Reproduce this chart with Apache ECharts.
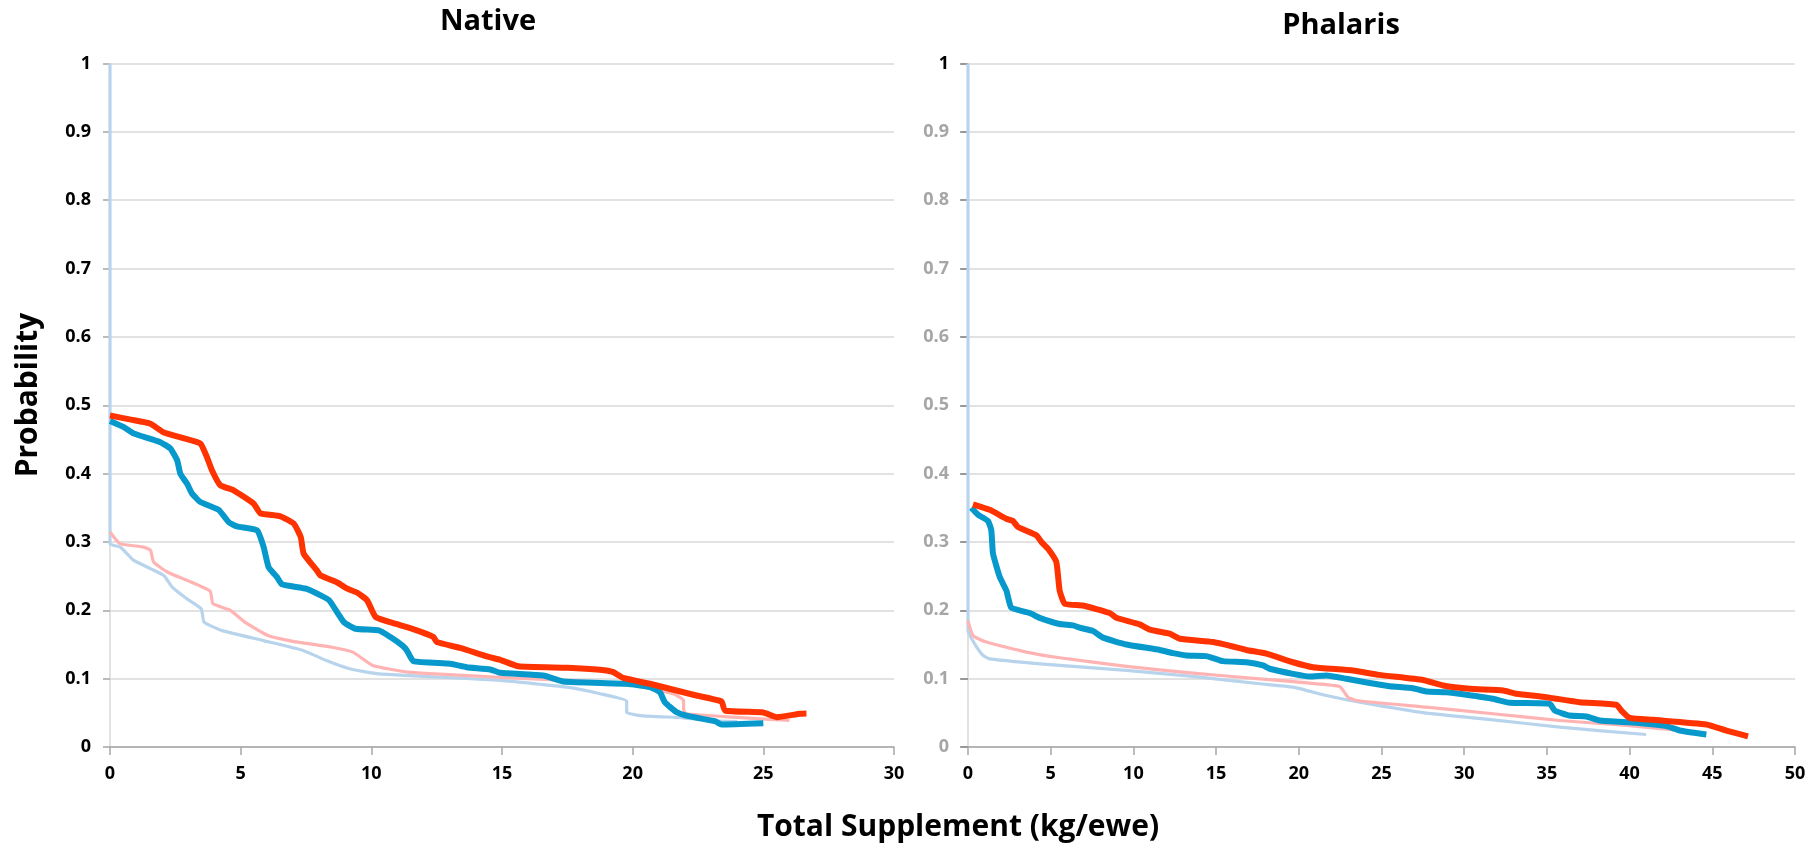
<!DOCTYPE html>
<html>
<head>
<meta charset="utf-8">
<script src="https://cdn.jsdelivr.net/npm/echarts@6/dist/echarts.min.js"></script>
<style>
html,body{margin:0;padding:0;background:#fff;}
#chart{width:1819px;height:849px;}
</style>
</head>
<body>
<div id="chart"></div>
<script>
// ---- data: [Total Supplement (kg/ewe), Probability] ----
var nativeRed = [[0,0.485],[0.8,0.479],[1.55,0.473],[2.06,0.460],[2.8,0.452],[3.46,0.444],[3.7,0.425],[3.9,0.405],[4.22,0.383],[4.73,0.3755],[5.5,0.356],[5.75,0.342],[6.52,0.3375],[7.03,0.327],[7.3,0.307],[7.41,0.283],[7.92,0.258],[8.05,0.251],[8.68,0.241],[9.06,0.232],[9.45,0.226],[9.84,0.2145],[10.17,0.190],[10.95,0.180],[11.74,0.1706],[12.38,0.1608],[12.5,0.1535],[13.4,0.145],[14.42,0.1325],[14.93,0.1276],[15.63,0.118],[17.5,0.116],[18.75,0.113],[19.26,0.1095],[19.64,0.101],[20.66,0.0925],[22.32,0.0764],[23.4,0.0666],[23.53,0.0534],[25.0,0.0505],[25.5,0.0437],[26.4,0.0486],[26.65,0.049]];
var nativeBlue = [[0,0.477],[0.53,0.468],[0.91,0.4586],[1.93,0.446],[2.31,0.4366],[2.57,0.4195],[2.69,0.400],[2.95,0.385],[3.14,0.3707],[3.46,0.3584],[4.16,0.347],[4.54,0.329],[4.86,0.3228],[5.63,0.317],[5.88,0.2925],[6.07,0.263],[6.39,0.2486],[6.58,0.238],[7.5,0.2316],[8.06,0.2218],[8.39,0.2145],[8.95,0.1827],[9.4,0.173],[10.29,0.1706],[10.73,0.1608],[11.18,0.1486],[11.36,0.1413],[11.61,0.1256],[13.02,0.1218],[13.65,0.1168],[14.55,0.1135],[14.93,0.1086],[16.58,0.1047],[17.35,0.0959],[19.77,0.0925],[20.66,0.0876],[21.04,0.0802],[21.23,0.0656],[21.68,0.051],[22.19,0.0447],[23.15,0.0378],[23.4,0.033],[25.0,0.0349]];
var nativePink = [[0,0.3145],[0.38,0.2975],[1.29,0.2925],[1.55,0.2877],[1.67,0.2706],[2.19,0.256],[2.95,0.2438],[3.83,0.228],[3.94,0.2097],[4.61,0.20],[5.16,0.1827],[6.05,0.163],[6.95,0.155],[8.5,0.146],[9.29,0.1388],[10.06,0.1193],[11.4,0.1095],[14.93,0.102],[17.48,0.0974],[20.02,0.090],[21.55,0.078],[21.95,0.068],[21.95,0.054],[22.06,0.0486],[23.85,0.0437],[26.0,0.0388]];
var nativePaleBlue = [[0,1],[0,0.2975],[0.4,0.2925],[0.91,0.273],[1.55,0.261],[2.06,0.251],[2.38,0.234],[2.94,0.217],[3.49,0.2023],[3.6,0.1827],[4.27,0.1706],[5.83,0.156],[7.39,0.1413],[8.28,0.1266],[9.17,0.1145],[10.29,0.107],[14.93,0.0974],[17.48,0.0876],[18.75,0.078],[19.77,0.067],[19.77,0.051],[20.28,0.046],[21.93,0.0427],[22.95,0.0388],[24,0.037]];

var phalarisRed = [[0.3,0.355],[1.31,0.347],[2.32,0.334],[2.72,0.3306],[3.02,0.3218],[4.13,0.3097],[4.44,0.300],[4.84,0.290],[5.34,0.2706],[5.54,0.229],[5.85,0.2097],[6.95,0.207],[8.57,0.196],[8.97,0.189],[10.38,0.1794],[10.99,0.1716],[12.19,0.1657],[12.8,0.1584],[14.81,0.1535],[16.02,0.147],[16.83,0.142],[18.04,0.1365],[19.65,0.124],[20.86,0.1168],[23.28,0.112],[24.85,0.1055],[27.51,0.098],[28.72,0.090],[30.33,0.0852],[32.35,0.0827],[33.16,0.0779],[34.97,0.0729],[36.98,0.0656],[39.2,0.0618],[39.5,0.0534],[40.0,0.0427],[41.41,0.0398],[44.64,0.033],[45.85,0.0241],[47.16,0.0154]];
var phalarisBlue = [[0.2,0.350],[0.6,0.340],[1.21,0.3306],[1.41,0.317],[1.51,0.283],[1.92,0.2486],[2.32,0.229],[2.62,0.2038],[3.73,0.196],[4.33,0.189],[5.54,0.180],[6.35,0.178],[6.75,0.1745],[7.56,0.1696],[8.16,0.160],[9.58,0.150],[11.59,0.142],[12.39,0.1373],[13.2,0.134],[14.41,0.133],[15.42,0.1256],[16.83,0.124],[17.84,0.1193],[18.24,0.1145],[19.65,0.107],[20.66,0.1032],[21.67,0.1047],[22.88,0.0998],[24.2,0.094],[25.5,0.089],[26.9,0.086],[27.71,0.0813],[28.92,0.0802],[30.13,0.0764],[31.74,0.0705],[32.75,0.0647],[35.17,0.0632],[35.47,0.0534],[36.38,0.046],[37.39,0.0447],[38.19,0.0388],[40.41,0.0354],[42.22,0.0305],[43.03,0.0242],[44.64,0.0183]];
var phalarisPink = [[0,0.185],[0.3,0.163],[1.11,0.1535],[3.53,0.1388],[5.54,0.1306],[9.58,0.118],[13.6,0.108],[17.64,0.0998],[20.66,0.0934],[22.47,0.0886],[22.97,0.0729],[23.48,0.068],[27.71,0.0583],[31.74,0.0486],[35.77,0.0388],[39.81,0.0315],[43.03,0.0242]];
var phalarisPaleBlue = [[0,1],[0,0.17],[0.4,0.151],[0.91,0.134],[1.31,0.129],[5.54,0.1193],[9.58,0.112],[13.6,0.1032],[17.64,0.0925],[19.65,0.0876],[21.67,0.0754],[23.68,0.0656],[27.71,0.0495],[31.74,0.0398],[35.77,0.029],[41.0,0.0183]];

var panelTitles = ['Native', 'Phalaris'];
var xTitle = 'Total Supplement (kg/ewe)';
var yTitle = 'Probability';
var xMaxNative = 30, xMaxPhalaris = 50, xStep = 5;
var yMin = 0, yMax = 1, yStep = 0.1;

var FONT = '"Open Sans", "DejaVu Sans", sans-serif';
var chart = echarts.init(document.getElementById('chart'), null, {renderer: 'canvas'});

function xAxisCfg(gi, max) {
  return {
    type: 'value', gridIndex: gi, min: 0, max: max, interval: xStep,
    axisLine: {show: true, lineStyle: {color: '#a6a6a6', width: 1.5}},
    axisTick: {show: true, length: 8, lineStyle: {color: '#a6a6a6', width: 1.5}},
    axisLabel: {color: '#000', fontFamily: FONT, fontWeight: 'bold', fontSize: 18, margin: 18},
    splitLine: {show: false}
  };
}
function yAxisCfg(gi, grey) {
  return {
    type: 'value', gridIndex: gi, min: yMin, max: yMax, interval: yStep,
    axisLine: {show: true, onZero: false, lineStyle: {color: '#d9d9d9', width: 1.5}},
    axisTick: {show: true, length: 7, lineStyle: {color: '#a6a6a6', width: 1.5}},
    axisLabel: {
      fontFamily: FONT, fontWeight: 'bold', fontSize: 18, margin: 19,
      color: grey ? '#a6a6a6' : '#000',
      formatter: function (v) { return grey && v === 1 ? '{k|1}' : String(v); },
      rich: {k: {color: '#000', fontFamily: FONT, fontWeight: 'bold', fontSize: 18}}
    },
    splitLine: {show: true, lineStyle: {color: '#d9d9d9', width: 1.5}}
  };
}
function line(data, xi, color, width, z) {
  return {
    type: 'line', xAxisIndex: xi, yAxisIndex: xi, data: data,
    showSymbol: false, symbol: 'none', smooth: 0.15, z: z,
    lineStyle: {color: color, width: width, join: 'round', cap: 'butt'},
    emphasis: {disabled: true}, silent: true, animation: false
  };
}

var RED = '#ff3300', BLUE = '#0899cc', PINK = '#ffb3b3', PALE = '#b8d4ec';

chart.setOption({
  backgroundColor: '#fff',
  animation: false,
  grid: [
    {left: 110, top: 63.5, width: 784, height: 683.5},
    {left: 968, top: 63.5, width: 827, height: 683.5}
  ],
  xAxis: [xAxisCfg(0, xMaxNative), xAxisCfg(1, xMaxPhalaris)],
  yAxis: [
    yAxisCfg(0, false), yAxisCfg(1, true),
    {type: 'value', gridIndex: 1, position: 'right', min: yMin, max: yMax, interval: yStep,
     axisLine: {show: false}, axisLabel: {show: false}, splitLine: {show: false},
     axisTick: {show: true, inside: true, length: 8, lineStyle: {color: '#8c8c8c', width: 1.5}}}
  ],
  series: [
    line(nativePaleBlue, 0, PALE, 3.2, 2),
    line(nativePink, 0, PINK, 3.2, 3),
    line(nativeBlue, 0, BLUE, 6, 4),
    line(nativeRed, 0, RED, 6, 5),
    line(phalarisPaleBlue, 1, PALE, 3.2, 2),
    line(phalarisPink, 1, PINK, 3.2, 3),
    line(phalarisBlue, 1, BLUE, 6, 4),
    line(phalarisRed, 1, RED, 6, 5)
  ],
  graphic: [
    {type: 'text', x: 488, y: 22, silent: true,
     style: {text: panelTitles[0], font: 'bold 29px ' + FONT, fill: '#000', textAlign: 'center', textVerticalAlign: 'middle'}},
    {type: 'text', x: 1341, y: 26, silent: true,
     style: {text: panelTitles[1], font: 'bold 29px ' + FONT, fill: '#000', textAlign: 'center', textVerticalAlign: 'middle'}},
    {type: 'text', x: 958, y: 827, silent: true,
     style: {text: xTitle, font: 'bold 30px ' + FONT, fill: '#000', textAlign: 'center', textVerticalAlign: 'middle'}},
    {type: 'text', x: 28, y: 395, rotation: Math.PI / 2, silent: true,
     style: {text: yTitle, font: 'bold 30px ' + FONT, fill: '#000', textAlign: 'center', textVerticalAlign: 'middle'}}
  ]
});
</script>
</body>
</html>
